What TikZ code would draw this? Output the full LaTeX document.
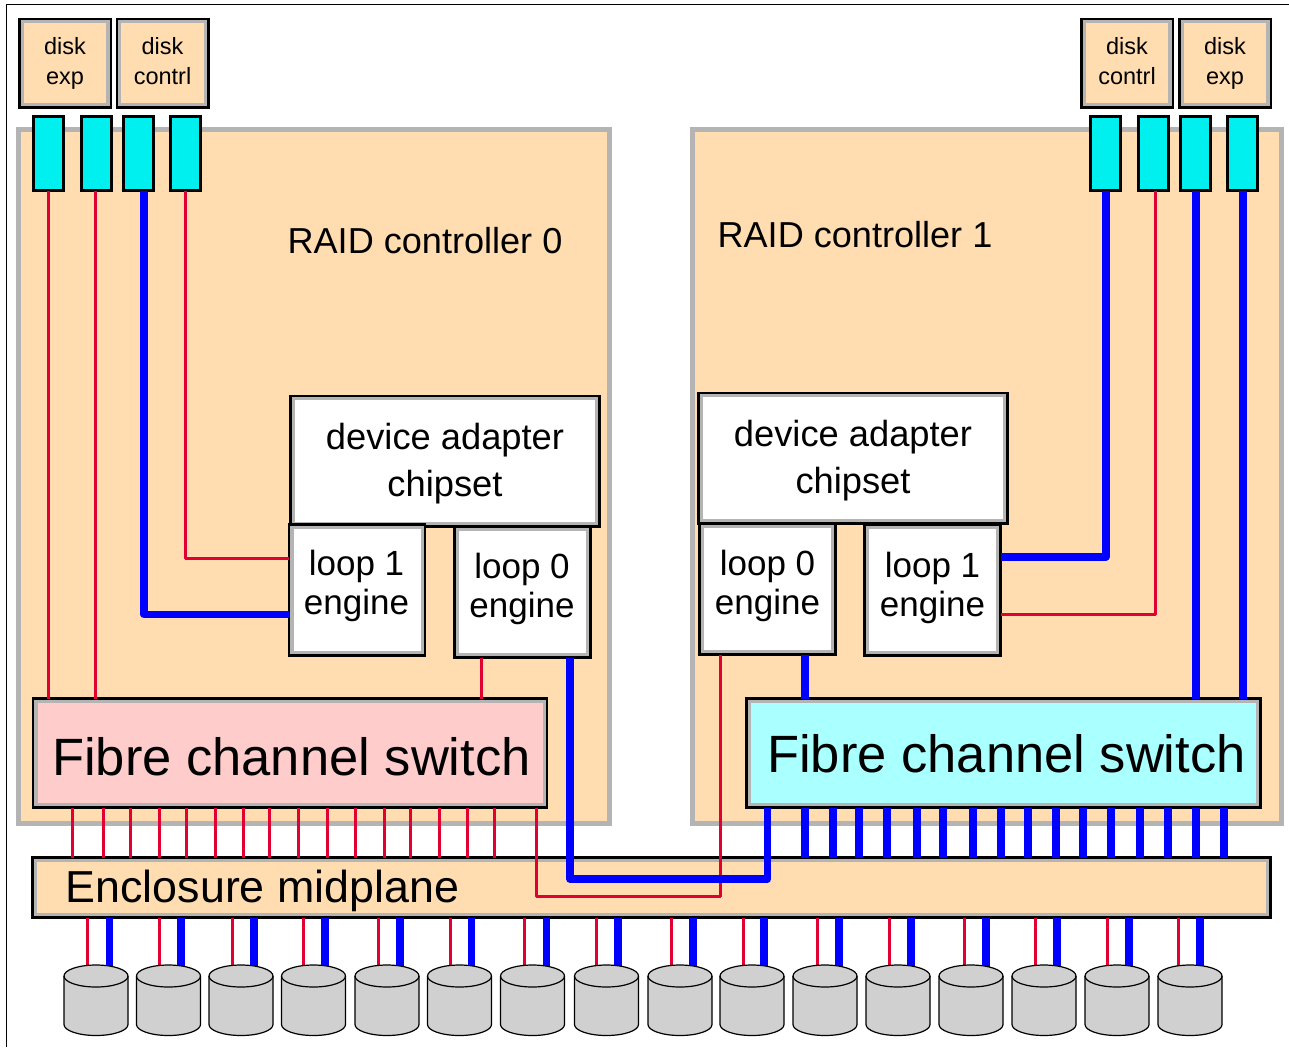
\documentclass[tikz,border=0pt]{standalone}
\usepackage{fontspec}
\setmainfont{Liberation Sans}

\definecolor{peach}{RGB}{255,221,176}
\definecolor{rimgray}{RGB}{180,180,180}
\definecolor{portcyan}{RGB}{0,240,240}
\definecolor{swpink}{RGB}{255,204,204}
\definecolor{swcyan}{RGB}{170,255,255}
\definecolor{wirered}{RGB}{224,0,50}
\definecolor{diskgray}{RGB}{208,208,208}

\tikzset{
	rimbox/.style={rectangle,draw=black,line width=2.5pt,inner sep=0pt,outer sep=0pt,
		path picture={\draw[rimgray,line width=9pt] (path picture bounding box.south west) rectangle (path picture bounding box.north east);}},
	diskbox/.style={rimbox,fill=peach,minimum width=91.5,minimum height=88.5},
	disklabel/.style={align=center,inner sep=0pt,font=\fontsize{23.5}{30}\selectfont},
	ctrlbox/.style={rectangle,draw=rimgray,line width=5pt,fill=peach,minimum height=694,inner sep=0pt},
	ctrllabel/.style={font=\fontsize{36.1}{40}\selectfont,inner sep=0pt},
	portbox/.style={rectangle,draw=black,line width=3pt,fill=portcyan,minimum width=30,minimum height=74.5,inner sep=0pt,outer sep=0pt},
	chipbox/.style={rimbox,fill=white,minimum width=309,minimum height=130.5},
	chiplabel/.style={align=center,inner sep=0pt,font=\fontsize{36.3}{47}\selectfont},
	loopbox/.style={rimbox,fill=white,minimum width=136,minimum height=131},
	looplabel/.style={align=center,inner sep=0pt,font=\fontsize{35}{39}\selectfont},
	switchbox/.style={rimbox,minimum width=514,minimum height=109},
	switchlabel/.style={inner sep=0pt,font=\fontsize{52.5}{60}\selectfont},
	planebox/.style={rimbox,fill=peach,minimum width=1238,minimum height=60},
	diskcyl/.style={draw=black,line width=1.2pt,fill=diskgray,line join=round},
	redwire/.style={draw=wirered,line width=3pt,line join=round},
	bluewire/.style={draw=blue,line width=7.5pt,line join=round}
}

\begin{document}
\begin{tikzpicture}[x=1pt,y=-1pt]
	\useasboundingbox (0,0) rectangle (1289,1047);
	\draw[line width=1.5pt] (6.5,1047) -- (6.5,4.5) -- (1289,4.5);

	\node[ctrlbox,minimum width=591] (ctrlL) at (314,476.5) {};
	\node[ctrlbox,minimum width=589] (ctrlR) at (987,476.5) {};
	\node[ctrllabel] (labelL) at (425,241) {RAID controller 0};
	\node[ctrllabel] (labelR) at (855,235) {RAID controller 1};

	\node[diskbox] (expL) at (65,63) {};
	\node[diskbox] (conL) at (162.5,63) {};
	\node[diskbox] (conR) at (1127,63) {};
	\node[diskbox] (expR) at (1225,63) {};
	\node[disklabel] (expLtext) at (65,63.5) {disk\\exp};
	\node[disklabel] (conLtext) at (162.5,61.5) {disk\\contrl};
	\node[disklabel] (conRtext) at (1127,61.5) {disk\\contrl};
	\node[disklabel] (expRtext) at (1225,63.5) {disk\\exp};

	\node[portbox] (portA) at (48.75,153.5) {};
	\node[portbox] (portB) at (96.25,153.5) {};
	\node[portbox] (portC) at (138.25,153.5) {};
	\node[portbox] (portD) at (185.75,153.5) {};
	\node[portbox] (portE) at (1105.75,153.5) {};
	\node[portbox] (portF) at (1153,153.5) {};
	\node[portbox] (portG) at (1195,153.5) {};
	\node[portbox] (portH) at (1242.75,153.5) {};

	\node[chipbox] (chipL) at (445,461) {};
	\node[chipbox] (chipR) at (853,458) {};
	\node[chiplabel] (chipLtext) at (445,464) {device adapter\\chipset};
	\node[chiplabel] (chipRtext) at (853,461) {device adapter\\chipset};
	\node[loopbox] (loopLa) at (357,590) {};
	\node[loopbox] (loopLb) at (522.5,592) {};
	\node[loopbox] (loopRb) at (767.5,589) {};
	\node[loopbox] (loopRa) at (932.5,590) {};
	\node[looplabel] (loopLatext) at (356.5,586) {loop 1\\engine};
	\node[looplabel] (loopLbtext) at (522,588.5) {loop 0\\engine};
	\node[looplabel] (loopRbtext) at (767.5,586) {loop 0\\engine};
	\node[looplabel] (loopRatext) at (932.5,587.5) {loop 1\\engine};

	\node[switchbox,fill=swpink] (swL) at (290,753) {};
	\node[switchbox,fill=swcyan] (swR) at (1003.5,753) {};
	\node[switchlabel] (swLtext) at (291.5,757) {Fibre channel switch};
	\node[switchlabel] (swRtext) at (1006.5,754) {Fibre channel switch};
	\node[planebox] (plane) at (651.5,887.5) {};
	\node[anchor=west,inner sep=0pt,font=\fontsize{44.8}{50}\selectfont] (planetext) at (65.5,891) {Enclosure midplane};

	% red side
	\draw[redwire] (portA.south) -- (portA.south |- swL.north);
	\draw[redwire] ([xshift=-1]portB.south) -- ([xshift=-1]portB.south |- swL.north);
	\draw[redwire] ([xshift=-0.75]portD.south) |- ([yshift=32]loopLa.west);
	\draw[redwire] ([xshift=2.5]portF.south) |- ([yshift=-24]loopRa.east);
	\draw[redwire] (481,0 |- loopLb.south) -- (481,0 |- swL.north);
	\draw[redwire] (720,0 |- loopRb.south) -- (720,896) -- (536,896) -- (536,0 |- swL.south);
	\foreach \x in {72,103,130,159,186,215,243,269,298,327,355,384,410,439,467,494}
		\draw[redwire] (\x,0 |- swL.south) -- (\x,0 |- plane.north);

	% blue side
	\draw[bluewire] ([xshift=5.5]portC.south) |- ([yshift=-24.5]loopLa.west);
	\draw[bluewire] (portE.south) |- ([yshift=33]loopRa.east);
	\draw[bluewire] ([xshift=1]portG.south) -- ([xshift=1]portG.south |- swR.north);
	\draw[bluewire] (portH.south) -- (portH.south |- swR.north);
	\draw[bluewire] (805,0 |- loopRb.south) -- (805,0 |- swR.north);
	\draw[bluewire] (570,0 |- loopLb.south) -- (570,879) -- (767.5,879) -- (767.5,0 |- swR.south);
	\foreach \x in {805,833,859,887,917,943,973,1001,1028,1056,1083,1111,1140,1168,1196,1224}
		\draw[bluewire] (\x,0 |- swR.south) -- (\x,0 |- plane.north);

	% disks under the midplane
	\foreach \i/\cx/\xr/\xb in {1/96/87.5/109.5,2/168.5/159/181,3/241/232/254,4/313.5/303/325,
		5/387/378.5/400,6/459.5/450/471.5,7/532.5/524.5/546.5,8/606.5/596/618,
		9/680/671/693,10/752/743/764,11/825/817/839,12/898/889/911,
		13/971/964/986,14/1044/1035/1057,15/1117/1107/1129,16/1190/1178/1200}{
		\coordinate (disk\i) at (\cx,976);
		\draw[redwire] (\xr,0 |- plane.south) -- (\xr,0 |- disk\i);
		\draw[bluewire] (\xb,0 |- plane.south) -- (\xb,0 |- disk\i);
		\draw[diskcyl] ([xshift=-32]disk\i) -- ++(0,48.5) arc[start angle=180,end angle=360,x radius=32pt,y radius=11pt]
			-- ++(0,-48.5) arc[start angle=0,end angle=180,x radius=32pt,y radius=11pt] -- cycle;
		\draw[diskcyl,fill=none] ([xshift=-32]disk\i) arc[start angle=180,end angle=360,x radius=32pt,y radius=11pt];
	}
\end{tikzpicture}
\end{document}
